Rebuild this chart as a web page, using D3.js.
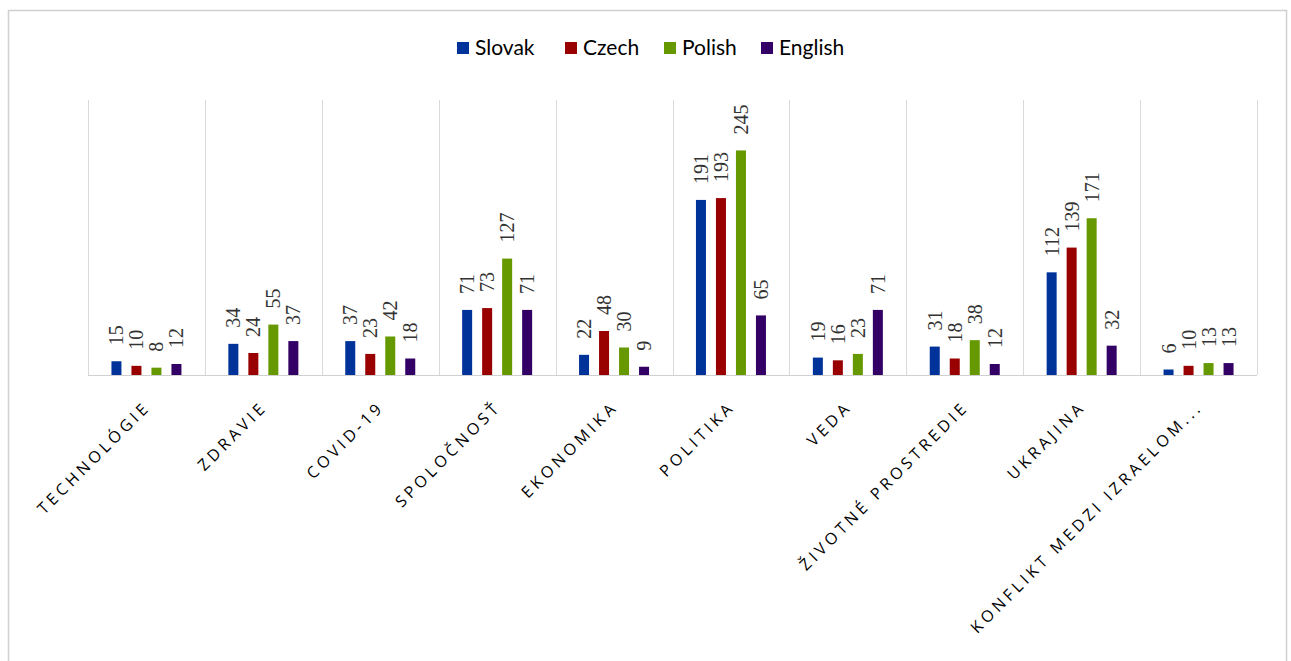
<!DOCTYPE html>
<html>
<head>
<meta charset="utf-8">
<script src="https://cdn.jsdelivr.net/npm/d3@7"></script>
<style>
  body { margin: 0; background: #fff; }
  svg { display: block; }
</style>
</head>
<body>
<div id="viz"></div>
<script>
// data
const categories = ["TECHNOLÓGIE", "ZDRAVIE", "COVID-19", "SPOLOČNOSŤ", "EKONOMIKA",
  "POLITIKA", "VEDA", "ŽIVOTNÉ PROSTREDIE", "UKRAJINA", "KONFLIKT MEDZI IZRAELOM..."]
const seriesNames = ["Slovak", "Czech", "Polish", "English"]
const slovak  = [15, 34, 37, 71, 22, 191, 19, 31, 112, 6]
const czech   = [10, 24, 23, 73, 48, 193, 16, 18, 139, 10]
const polish  = [8, 55, 42, 127, 30, 245, 23, 38, 171, 13]
const english = [12, 37, 18, 71, 9, 65, 71, 12, 32, 13]
const seriesValues = [slovak, czech, polish, english]
const colors = ["#003399", "#990000", "#669900", "#330066"]

const width = 1291, height = 661
const margin = { top: 100, right: 34, bottom: 286, left: 88 }

const svg = d3.select("#viz").append("svg")
  .attr("width", width)
  .attr("height", height)

// outer frame
svg.append("rect")
  .attr("x", 8.5).attr("y", 10.5)
  .attr("width", 1278).attr("height", 700)
  .attr("fill", "none")
  .attr("stroke", "#d0d0d0")
  .attr("stroke-width", 1.5)

const x0 = d3.scaleBand()
  .domain(categories)
  .range([margin.left, width - margin.right])

// 4 bars, 10px wide, 20px pitch
const x1 = d3.scaleBand()
  .domain(seriesNames)
  .range([0, 70])
  .paddingInner(0.5)

const y = d3.scaleLinear()
  .domain([0, 300])
  .range([height - margin.bottom, margin.top])

// vertical gridlines at category edges
const edges = categories.map(c => x0(c)).concat([x0.range()[1]])
svg.append("g").selectAll("line")
  .data(edges)
  .join("line")
    .attr("x1", d => Math.round(d) + 0.5)
    .attr("x2", d => Math.round(d) + 0.5)
    .attr("y1", y(300))
    .attr("y2", y(0))
    .attr("stroke", "#d9d9d9")

// baseline
svg.append("line")
  .attr("x1", x0.range()[0]).attr("x2", x0.range()[1])
  .attr("y1", y(0) + 0.5).attr("y2", y(0) + 0.5)
  .attr("stroke", "#d0d0d0")

const groupOffset = (x0.bandwidth() - 70) / 2

const groups = svg.append("g").selectAll("g")
  .data(categories)
  .join("g")
    .attr("transform", d => `translate(${x0(d) + groupOffset},0)`)

const items = (c, i) => seriesNames.map((s, k) => ({ series: s, value: seriesValues[k][i], k }))

groups.selectAll("rect")
  .data(items)
  .join("rect")
    .attr("x", d => x1(d.series))
    .attr("y", d => y(d.value))
    .attr("width", x1.bandwidth())
    .attr("height", d => y(0) - y(d.value))
    .attr("fill", d => colors[d.k])

// value labels
groups.selectAll("text")
  .data(items)
  .join("text")
    .attr("transform", d => `translate(${x1(d.series) + x1.bandwidth() / 2 + 7},${y(d.value) - 16}) rotate(-90)`)
    .style("font-family", "'Liberation Serif', 'DejaVu Serif', serif")
    .style("font-size", "20px")
    .attr("fill", "#333")
    .text(d => d.value)

// category labels
svg.append("g").selectAll("text")
  .data(categories)
  .join("text")
    .attr("transform", d => `translate(${x0(d) + x0.bandwidth() / 2 + 5},${y(0) + 33}) rotate(-45)`)
    .attr("text-anchor", "end")
    .style("font-family", "'Open Sans', sans-serif")
    .style("font-size", "16px")
    .style("letter-spacing", "3.8px")
    .attr("fill", "#000")
    .text(d => d)

// legend
const legendX = [457, 565, 664, 761]
const legend = svg.append("g").selectAll("g")
  .data(seriesNames)
  .join("g")
    .attr("transform", (d, i) => `translate(${legendX[i]},42)`)
legend.append("rect")
  .attr("width", 12).attr("height", 12)
  .attr("fill", (d, i) => colors[i])
legend.append("text")
  .attr("x", 18).attr("y", 13)
  .style("font-family", "Lato, 'Open Sans', sans-serif")
  .style("font-size", "21px")
  .attr("fill", "#000")
  .text(d => d)
</script>
</body>
</html>
